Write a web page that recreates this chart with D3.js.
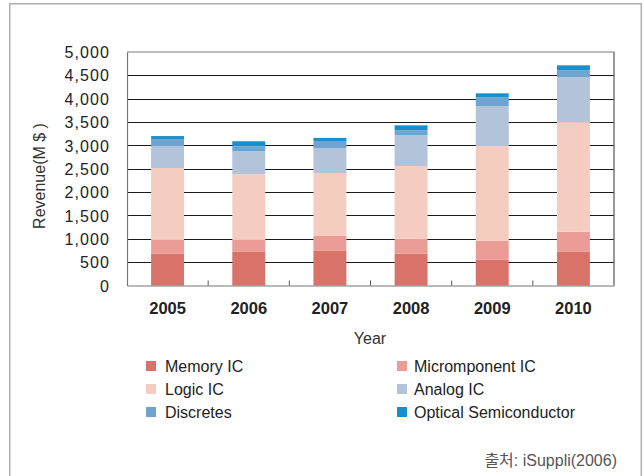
<!DOCTYPE html>
<html><head><meta charset="utf-8">
<script src="https://cdn.jsdelivr.net/npm/d3@7"></script>
<style>
html,body{margin:0;padding:0;background:#fff;}
svg{display:block;font-family:"Liberation Sans",Arial,"Noto Sans CJK KR",sans-serif;}
</style></head>
<body>
<svg id="c" width="644" height="476"></svg>
<script>
const years = ["2005","2006","2007","2008","2009","2010"];
const seriesNames = ["Memory IC","Micromponent IC","Logic IC","Analog IC","Discretes","Optical Semiconductor"];
const memoryIC     = [680, 720, 740, 680, 550, 720];
const micromponent = [295, 255, 320, 320, 405, 430];
const logicIC      = [1540,1410,1350,1560,2030,2350];
const analogIC     = [470, 490, 535, 660, 855, 960];
const discretes    = [150, 107, 150, 105, 190, 150];
const optical      = [65, 107, 65, 105, 85, 105];
const yTicks = [0,500,1000,1500,2000,2500,3000,3500,4000,4500,5000];
const colors = ["#d97369","#eb9c96","#f5ccc0","#b2c3da","#6ea4cf","#1a8fcc"];

const allSeries = [memoryIC, micromponent, logicIC, analogIC, discretes, optical];
const rows = years.map((y,i)=>{const o={year:y}; seriesNames.forEach((s,j)=>o[s]=allSeries[j][i]); return o;});
const stacked = d3.stack().keys(seriesNames)(rows);

const svg = d3.select("#c");
// outer frame
svg.append("rect").attr("x",9.75).attr("y",3.75).attr("width",631.5).attr("height",500)
  .attr("fill","none").attr("stroke","#b0b0b0").attr("stroke-width",1.5);

const L=127,R=614,T=52,B=285.5;
const x = d3.scaleBand().domain(years).range([L,R]).paddingInner(0.594).paddingOuter(0.297);
const y = d3.scaleLinear().domain([0,5000]).range([B,T]);

// gridlines
svg.append("g").selectAll("line").data(yTicks.filter(t=>t>0&&t<5000)).join("line")
  .attr("x1",L).attr("x2",R).attr("y1",d=>Math.round(y(d))+0.5).attr("y2",d=>Math.round(y(d))+0.5)
  .attr("stroke","#1a1a1a").attr("stroke-width",1.2);
// top & right frame
svg.append("line").attr("x1",L).attr("x2",R).attr("y1",T).attr("y2",T).attr("stroke","#7a7a7a").attr("stroke-width",1.2);
svg.append("line").attr("x1",R).attr("x2",R).attr("y1",T).attr("y2",B).attr("stroke","#555").attr("stroke-width",1.2);

// bars
svg.append("g").selectAll("g").data(stacked).join("g").attr("fill",(d,i)=>colors[i])
  .selectAll("rect").data(d=>d).join("rect")
  .attr("x",d=>x(d.data.year)).attr("width",x.bandwidth())
  .attr("y",d=>y(d[1])).attr("height",d=>y(d[0])-y(d[1]));

// axes
const yAxis = d3.axisLeft(y).tickValues(yTicks).tickSize(0).tickPadding(17).tickFormat(d3.format(","));
const gy = svg.append("g").attr("transform",`translate(${L},0)`).call(yAxis);
gy.select(".domain").attr("stroke","#777").attr("stroke-width",1.2);
gy.selectAll("text").attr("font-size",16).attr("fill","#222").attr("letter-spacing","1.1px").attr("dy","0.35em");

const xAxis = d3.axisBottom(x).tickSize(0).tickPadding(17);
const gx = svg.append("g").attr("transform",`translate(0,${B})`).call(xAxis);
gx.select(".domain").attr("stroke","#777").attr("stroke-width",1.2);
gx.selectAll("text").attr("font-size",16.5).attr("font-weight","bold").attr("fill","#222").attr("dy","0.71em");
// between-category ticks
svg.append("g").selectAll("line").data(years.slice(1)).join("line")
  .attr("x1",d=>x(d)-x.step()*x.paddingInner()/2 ).attr("x2",d=>x(d)-x.step()*x.paddingInner()/2)
  .attr("y1",B-5).attr("y2",B).attr("stroke","#555").attr("stroke-width",1);

// titles
svg.append("text").attr("transform","translate(45,176) rotate(-90)").attr("text-anchor","middle")
  .attr("font-size",16).attr("fill","#333").text("Revenue(M $ )");
svg.append("text").attr("x",370).attr("y",344).attr("text-anchor","middle")
  .attr("font-size",16).attr("fill","#333").text("Year");

// legend
const leg = svg.append("g");
seriesNames.forEach((s,i)=>{
  const col = i%2, row = Math.floor(i/2);
  const lx = col===0?146:397, ly = 366 + row*23;
  leg.append("rect").attr("x",lx).attr("y",ly-5).attr("width",10).attr("height",10).attr("fill",colors[i]);
  leg.append("text").attr("x",lx+(col===0?19:17)).attr("y",ly).attr("dy","0.35em")
    .attr("font-size",16).attr("fill","#222").text(s);
});

svg.append("text").attr("x",617).attr("y",466).attr("text-anchor","end")
  .attr("font-size",16).attr("fill","#555").text("출처: iSuppli(2006)");
</script>
</body></html>
